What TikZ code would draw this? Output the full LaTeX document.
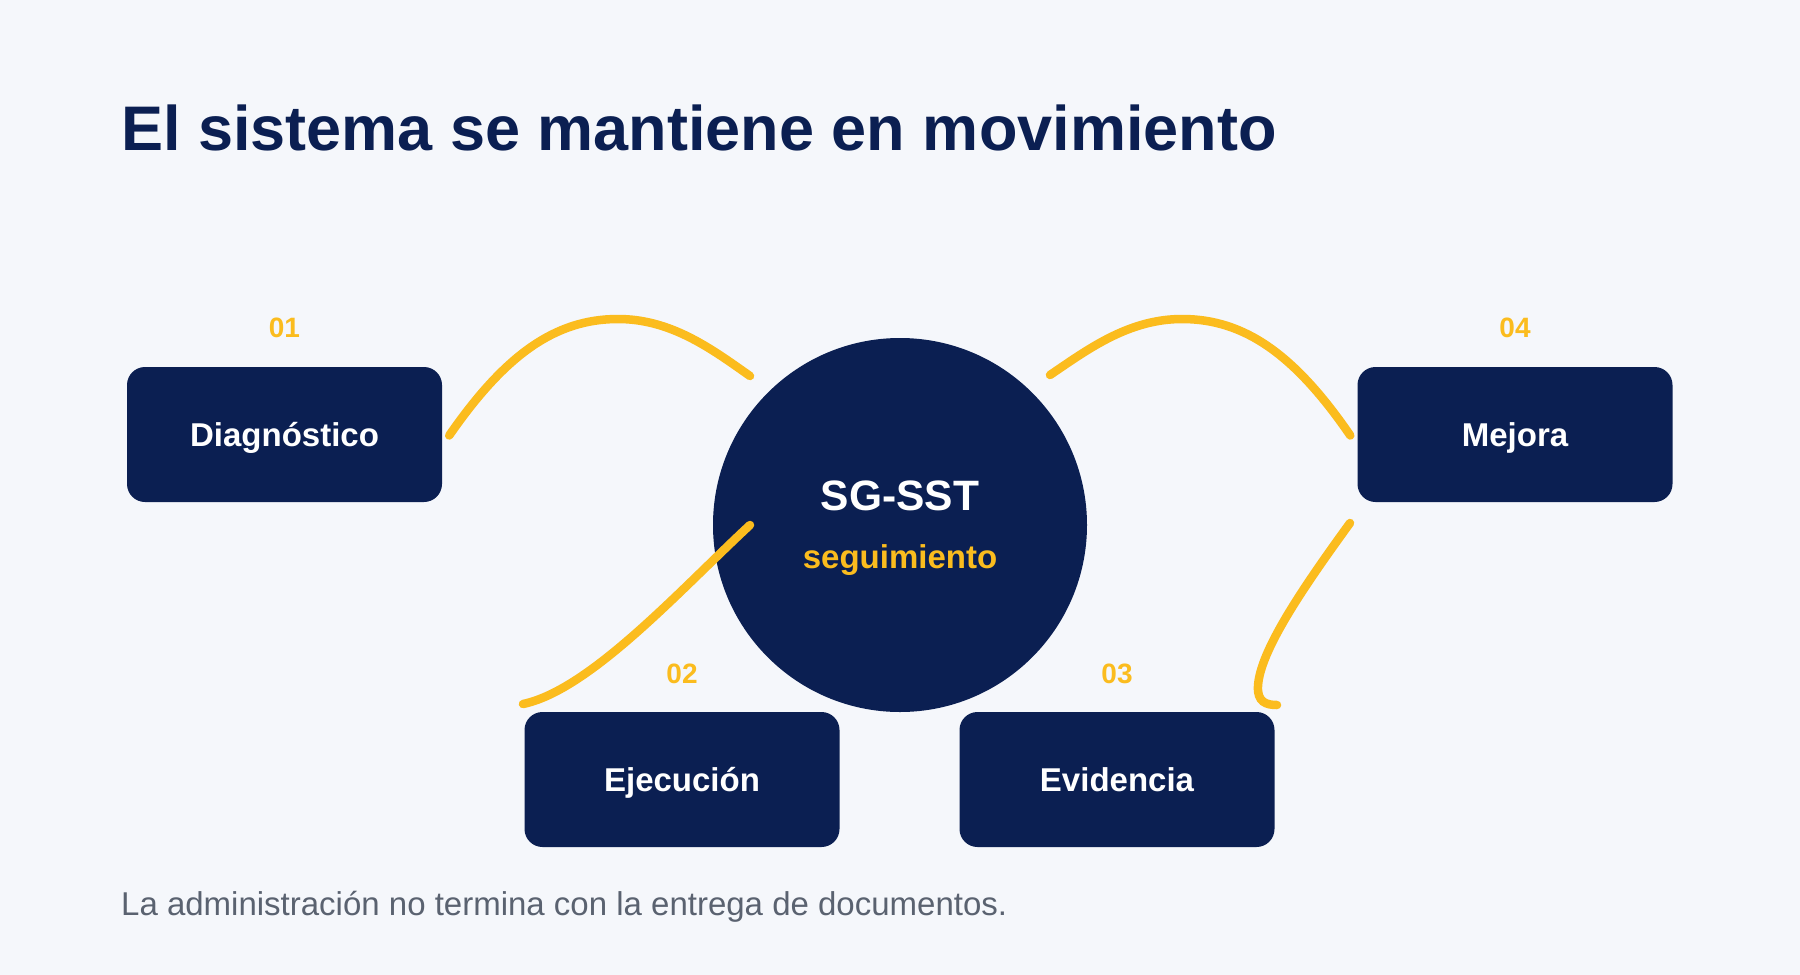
\documentclass[tikz,border=0pt]{standalone}
\usepackage{fontspec}
\setmainfont{Liberation Sans}
\usetikzlibrary{calc}
\definecolor{navy}{HTML}{0B1F52}
\definecolor{gold}{HTML}{FBBC1E}
\definecolor{bg}{HTML}{F5F7FB}
\definecolor{greytxt}{HTML}{5A6270}
\begin{document}
\begin{tikzpicture}[x=1pt,y=-1pt,
  stagebox/.style={fill=navy, rounded corners=18pt, minimum width=315pt, minimum height=135pt,
    inner sep=0pt, text=white, font=\fontsize{33}{36}\selectfont\bfseries,
    text height=23.6pt, text depth=0pt},
  numlabel/.style={anchor=base, text=gold, font=\fontsize{28}{30}\selectfont\bfseries, inner sep=0pt},
  swoosh/.style={draw=gold, line width=8.5pt, line cap=round}]
\fill[bg] (0,0) rectangle (1800,975);
\useasboundingbox (0,0) rectangle (1800,975);

\node[anchor=base west, inner sep=0pt, text=navy, font=\fontsize{63}{70}\selectfont\bfseries] (title) at (121,150) {El sistema se mantiene en movimiento};

\node[circle, fill=navy, minimum size=374pt, inner sep=0pt] (hub) at (900,525) {};
\node[anchor=base, inner sep=0pt, text=white, font=\fontsize{42.5}{46}\selectfont\bfseries] (hubtitle) at (900,510) {SG-SST};
\node[anchor=base, inner sep=0pt, text=gold, font=\fontsize{33}{36}\selectfont\bfseries] (hubsub) at (900,568) {seguimiento};

\node[stagebox] (diag) at (284.5,434.5) {Diagnóstico};
\node[stagebox] (ejec) at (682,779.5) {Ejecución};
\node[stagebox] (evid) at (1117,779.5) {Evidencia};
\node[stagebox] (mejo) at (1515,434.5) {Mejora};

\node[numlabel] (n1) at (284.5,337) {01};
\node[numlabel] (n2) at (682,683) {02};
\node[numlabel] (n3) at (1117,683) {03};
\node[numlabel] (n4) at (1515,337) {04};

\coordinate (a1) at ($(diag.east)+(7,1)$);
\coordinate (a2) at (750,376);
\coordinate (b1) at (750,525);
\coordinate (b2) at (523,704);
\coordinate (c1) at (1050,375);
\coordinate (c2) at ($(mejo.west)+(-7,1)$);
\coordinate (d1) at (1350,523);
\coordinate (d2) at (1277,705);

\draw[swoosh] (a1) .. controls (505,355) and (555,319) .. (618,319) .. controls (672,319) and (713,350) .. (a2);
\draw[swoosh] (b1) .. controls (680,590) and (590,690) .. (b2);
\draw[swoosh] (c1) .. controls (1087,350) and (1128,319) .. (1182,319) .. controls (1245,319) and (1295,355) .. (c2);
\draw[swoosh] (d1) .. controls (1305,585) and (1260,650) .. (1258,686) .. controls (1257,702) and (1266,705) .. (d2);

\node[anchor=base west, inner sep=0pt, text=greytxt, font=\fontsize{33}{37}\selectfont] (foot) at (121,915) {La administración no termina con la entrega de documentos.};
\end{tikzpicture}
\end{document}
